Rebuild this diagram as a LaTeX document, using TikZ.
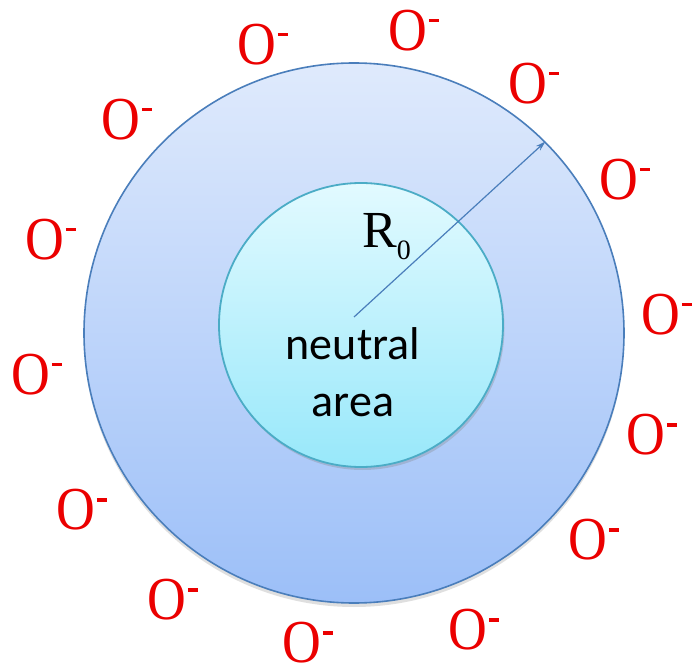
\documentclass[tikz,border=0pt]{standalone}
\usepackage{fontspec}
\usepackage{graphicx}
\setmainfont{Liberation Serif}
\newfontfamily\labelfont{Carlito}
\newfontfamily\ionfont{Liberation Serif}
\usetikzlibrary{arrows.meta, shadows}
\definecolor{shellblue}{RGB}{74,126,187}
\definecolor{shelltop}{RGB}{223,234,252}
\definecolor{shellbottom}{RGB}{156,191,248}
\definecolor{coreedge}{RGB}{75,172,198}
\definecolor{coretop}{RGB}{226,250,255}
\definecolor{corebottom}{RGB}{152,232,250}
\definecolor{ionred}{RGB}{235,0,0}
\newcommand{\Oion}{\scalebox{0.88}[1]{O}\kern1.5pt\rule[28pt]{10pt}{3.5pt}}

\begin{document}
\begin{tikzpicture}[
  x=1pt, y=-1pt,
  shell/.style={circle, draw=shellblue, line width=1.6pt, top color=shelltop, bottom color=shellbottom,
    minimum size=540pt, inner sep=0pt, drop shadow={shadow xshift=0pt, shadow yshift=-4pt, opacity=0.25}},
  core/.style={circle, draw=coreedge, line width=1.8pt, top color=coretop, bottom color=corebottom,
    minimum size=284pt, inner sep=0pt, drop shadow={shadow xshift=1.5pt, shadow yshift=-3pt, opacity=0.3}},
  ion/.style={anchor=base west, inner sep=0pt, text=ionred, font=\ionfont\fontsize{61}{61}\selectfont},
  radius arrow/.style={draw=shellblue, line width=1.2pt, -{Stealth[length=10pt, width=6pt]}}
]
  \fill[white] (0,0) rectangle (694,668);
  \useasboundingbox (0,0) rectangle (694,668);

  % charged shell and neutral core
  \node[shell] (shell) at (354,333) {};
  \node[core] (core) at (361,325) {};

  \node[anchor=center, align=center, inner sep=0pt, font=\labelfont\fontsize{46}{57}\selectfont] (ntext) at (353,372) {neutral\\area};

  \coordinate (c0) at (354,317);
  \draw[radius arrow] (c0) -- (shell.45);
  \node[anchor=base west, inner sep=0pt, font=\ionfont\fontsize{52}{52}\selectfont] (rlabel) at (362,248)
    {R\raisebox{-12pt}{\fontsize{28}{28}\selectfont 0}};

  % O- ions round the shell
  \foreach \cx/\cy [count=\i] in {257/44, 408/30, 528/83, 121/119, 619/179, 45/239, 31/374,
      661/314, 646/434, 76/509, 588/539, 167/599, 468/629, 302/642}
    \node[ion] (o\i) at (\cx-19.5,\cy+20.5) {\Oion};
\end{tikzpicture}
\end{document}
